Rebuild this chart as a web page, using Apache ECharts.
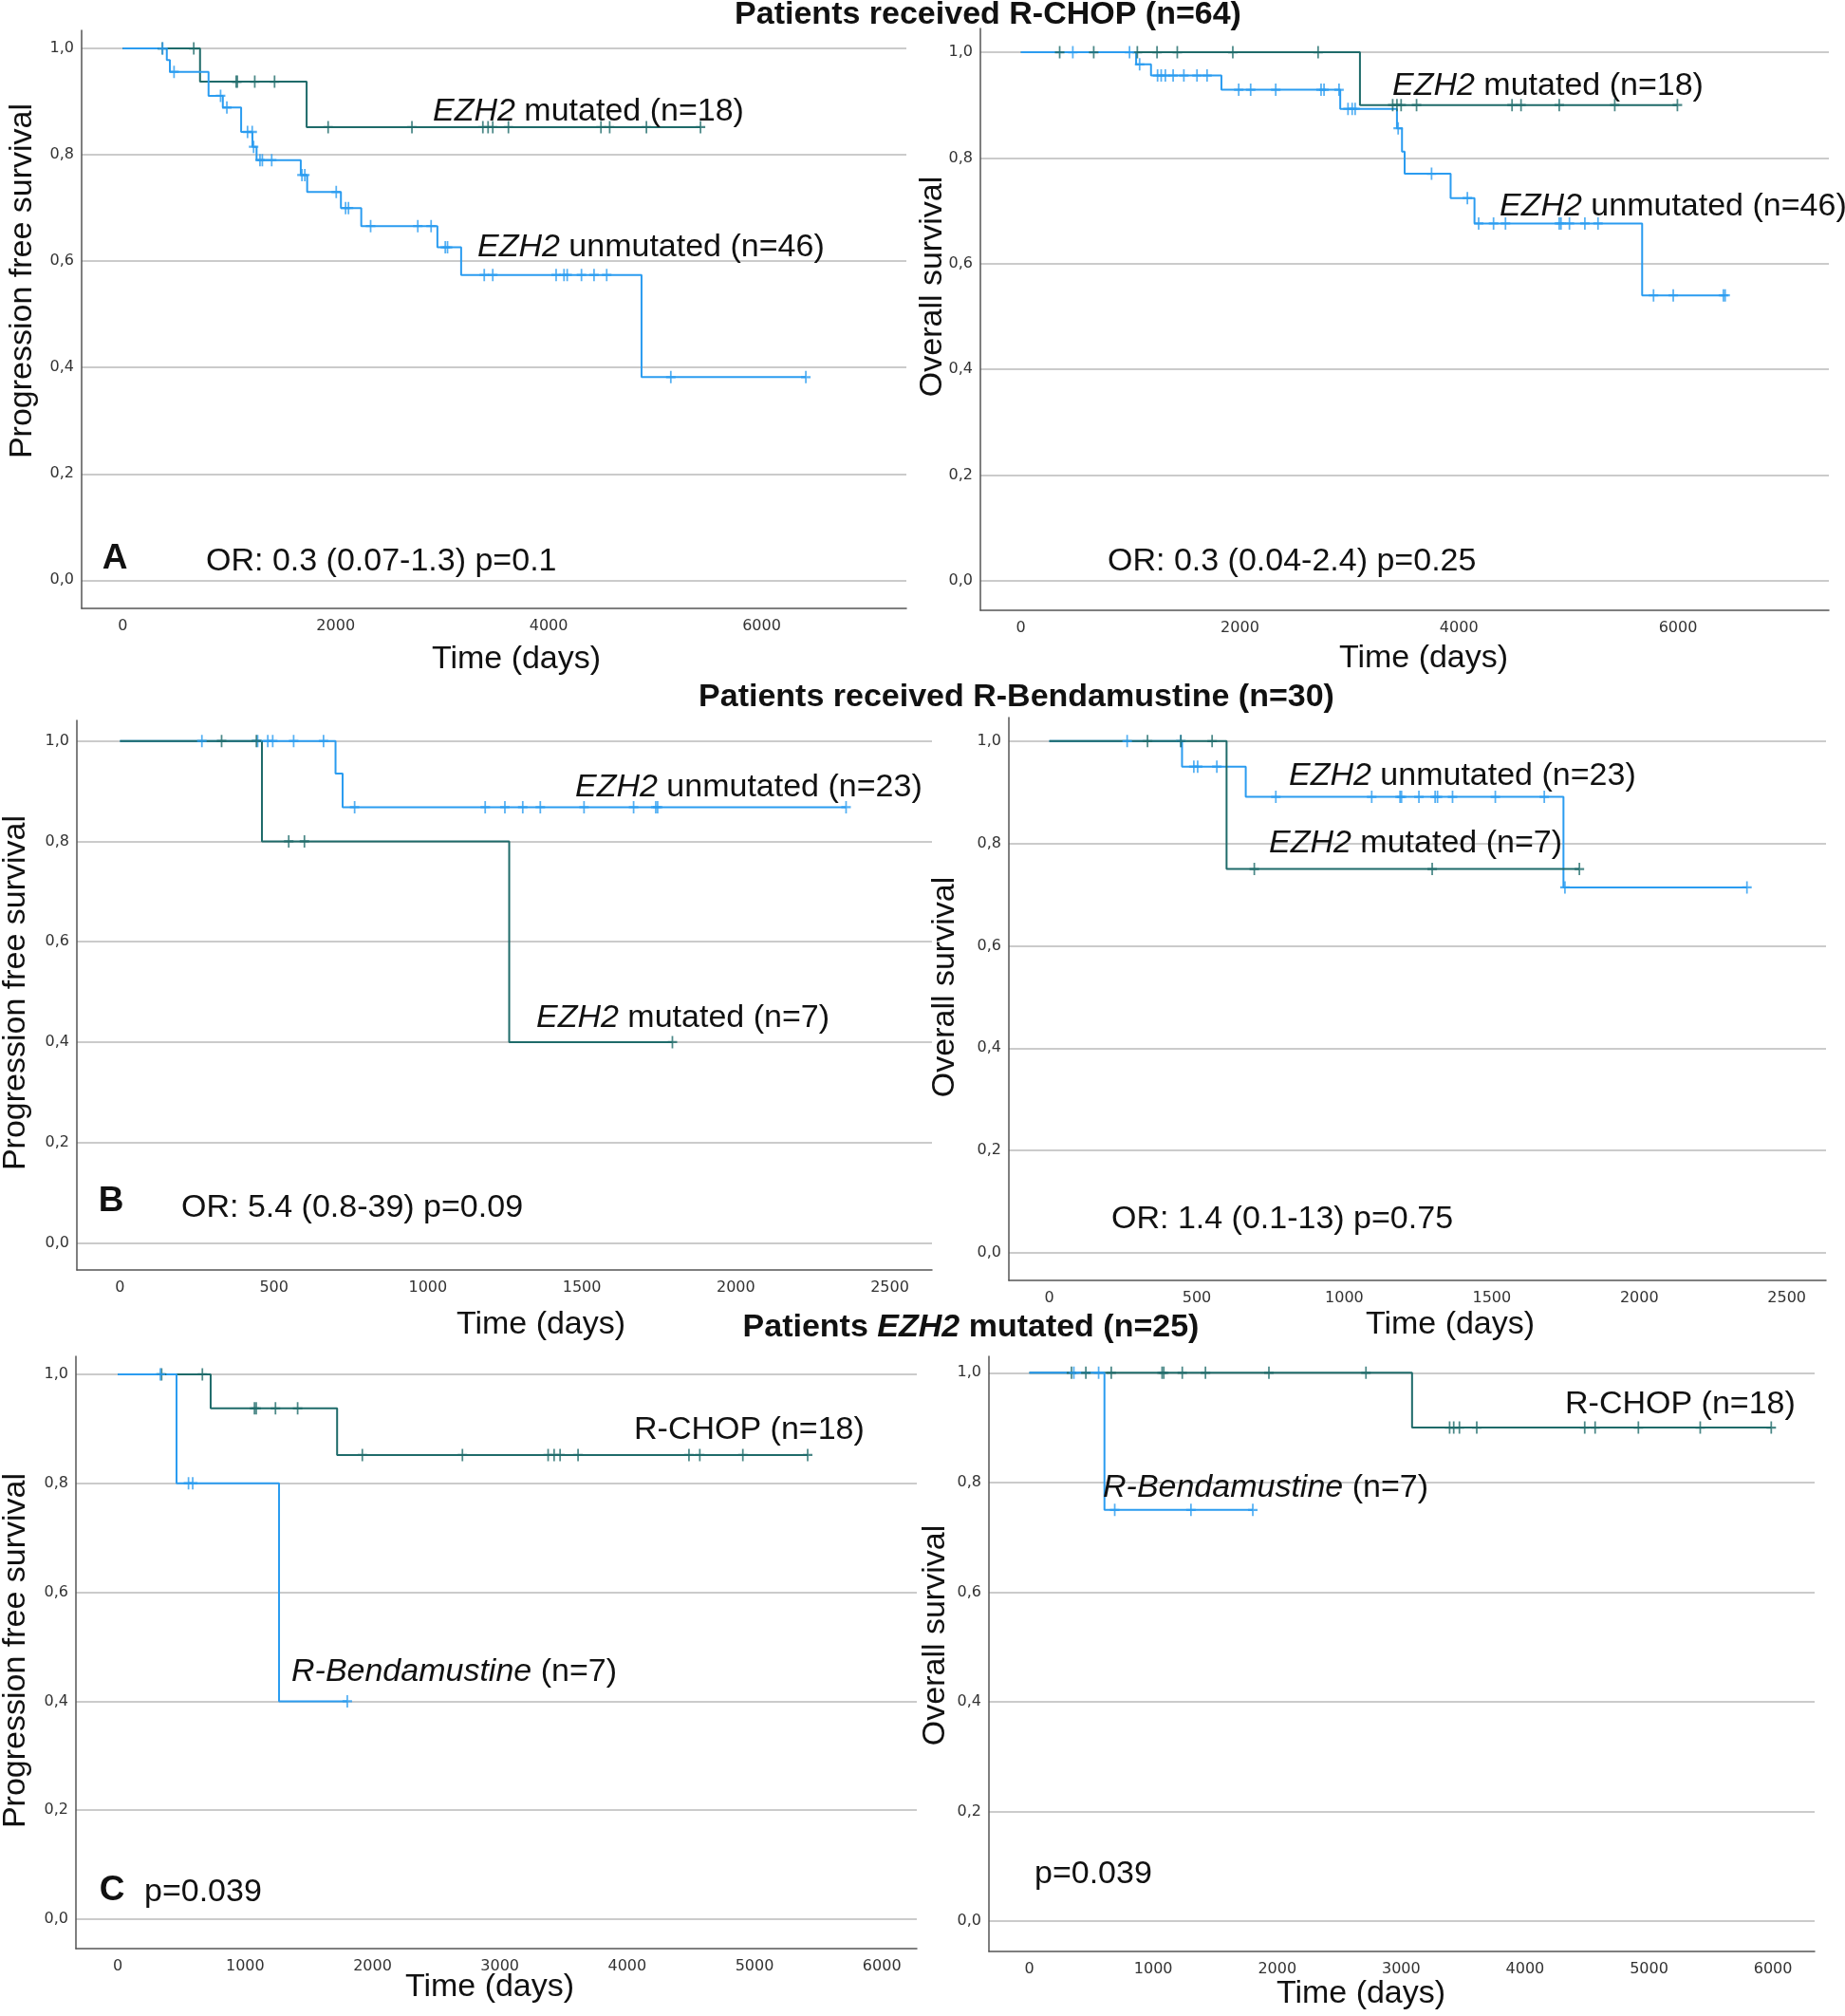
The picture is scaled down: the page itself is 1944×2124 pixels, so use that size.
<!DOCTYPE html>
<html><head><meta charset="utf-8">
<script src="https://cdn.jsdelivr.net/npm/echarts@6/dist/echarts.min.js"></script>
<style>html,body{margin:0;padding:0;background:#fff}#c{width:1944px;height:2124px}</style>
</head><body><div id="c"></div>
<script>
// ================= DATA =================
const yTickValues = [0, 0.2, 0.4, 0.6, 0.8, 1.0];
const xTicksRchop = [0, 2000, 4000, 6000];
const xTicksBenda = [0, 500, 1000, 1500, 2000, 2500];
const xTicksMutated = [0, 1000, 2000, 3000, 4000, 5000, 6000];

const sectionTitles = ['Patients received R-CHOP (n=64)', 'Patients received R-Bendamustine (n=30)', 'Patients {bi|EZH2} mutated (n=25)'];
const yNamePFS = 'Progression free survival';
const yNameOS = 'Overall survival';
const xName = 'Time (days)';

// Panel A (R-CHOP, PFS)
const aPfsMutSteps = [[0,1],[726,0.9375],[1727,0.852],[5426,0.852]];
const aPfsMutCens = [372,667,1065,1076,1240,1426,1929,2716,3382,3431,3475,3622,4491,4573,4918,5426];
const aPfsUnmSteps = [[0,1],[414,0.978],[443,0.956],[806,0.911],[940,0.889],[1112,0.843],[1218,0.815],[1257,0.790],[1672,0.762],[1732,0.730],[2049,0.700],[2240,0.666],[2955,0.626],[3178,0.574],[4872,0.382],[6415,0.382]];
const aPfsUnmCens = [375,482,919,978,1172,1216,1229,1289,1311,1399,1683,1710,2005,2093,2120,2328,2771,2896,3029,3050,3395,3475,4070,4144,4174,4308,4426,4545,5147,6415];
// Panel A right (R-CHOP, OS)
const aOsMutSteps = [[0,1],[3096,0.900],[5995,0.900]];
const aOsMutCens = [354,665,1063,1243,1428,1935,2714,3395,3434,3472,3613,4485,4567,4916,5423,5995];
const aOsUnmSteps = [[0,1],[1052,0.977],[1188,0.956],[1831,0.929],[2916,0.893],[3434,0.856],[3480,0.812],[3504,0.770],[3924,0.724],[4142,0.676],[5673,0.540],[6431,0.540]];
const aOsUnmCens = [474,992,1084,1248,1281,1319,1390,1488,1608,1700,1989,2098,2327,2741,2768,2905,2987,3025,3052,3445,3750,4077,4180,4316,4425,4916,4932,5009,5150,5270,5777,5957,6415,6431];
// Panel B (R-Bendamustine, PFS)
const bPfsUnmSteps = [[0,1],[700,0.935],[723,0.868],[2358,0.868]];
const bPfsUnmCens = [266,447,480,496,564,661,762,1186,1250,1308,1365,1507,1668,1740,1746,2358];
const bPfsMutSteps = [[0,1],[461,0.8],[1264,0.4],[1794,0.4]];
const bPfsMutCens = [330,443,548,599,1794];
// Panel B right (R-Bendamustine, OS)
const bOsUnmSteps = [[0,1],[450,0.95],[666,0.891],[1743,0.714],[2365,0.714]];
const bOsUnmCens = [264,446,490,503,568,768,1093,1189,1194,1253,1308,1316,1367,1512,1678,1748,2365];
const bOsMutSteps = [[0,1],[601,0.75],[1797,0.75]];
const bOsMutCens = [333,446,552,695,1298,1797];
// Panel C (EZH2 mutated, PFS)
const cPfsRchopSteps = [[0,1],[729,0.9375],[1722,0.852],[5417,0.852]];
const cPfsRchopCens = [344,664,1073,1087,1238,1412,1920,2706,3379,3426,3473,3614,4485,4570,4908,5417];
const cPfsBendaSteps = [[0,1],[461,0.8],[1266,0.4],[1802,0.4]];
const cPfsBendaCens = [334,555,588,1802];
// Panel C right (EZH2 mutated, OS)
const cOsRchopSteps = [[0,1],[3088,0.9],[5986,0.9]];
const cOsRchopCens = [340,456,661,1071,1085,1234,1421,1933,2716,3391,3424,3470,3610,4481,4565,4914,5413,5986];
const cOsBendaSteps = [[0,1],[606,0.75],[1803,0.75]];
const cOsBendaCens = [359,559,689,1304,1803];

// ================= LAYOUT / STYLE =================
const TEAL = '#1f6b6a', BLUE = '#2b9cf0';
const FONT = '"Liberation Sans", Arial, Helvetica, sans-serif';
const TICKFONT = '"DejaVu Sans", Verdana, sans-serif';

const panels = [
  {L:86, T:32, R:955, B:641, xmin:-386, xmax:7359, ymin:-0.053, ymax:1.034, xt:xTicksRchop,
   curves:[[aPfsMutSteps,aPfsMutCens,TEAL],[aPfsUnmSteps,aPfsUnmCens,BLUE]]},
  {L:1033, T:30, R:1927, B:643, xmin:-370, xmax:7378, ymin:-0.056, ymax:1.045, xt:xTicksRchop,
   curves:[[aOsMutSteps,aOsMutCens,TEAL],[aOsUnmSteps,aOsUnmCens,BLUE]]},
  {L:81, T:759, R:982, B:1338, xmin:-140, xmax:2637, ymin:-0.054, ymax:1.041, xt:xTicksBenda,
   curves:[[bPfsUnmSteps,bPfsUnmCens,BLUE],[bPfsMutSteps,bPfsMutCens,TEAL]]},
  {L:1063, T:756, R:1924, B:1349, xmin:-137, xmax:2633, ymin:-0.054, ymax:1.046, xt:xTicksBenda,
   curves:[[bOsUnmSteps,bOsUnmCens,BLUE],[bOsMutSteps,bOsMutCens,TEAL]]},
  {L:80, T:1429, R:966, B:2053, xmin:-329, xmax:6274, ymin:-0.054, ymax:1.033, xt:xTicksMutated,
   curves:[[cPfsRchopSteps,cPfsRchopCens,TEAL],[cPfsBendaSteps,cPfsBendaCens,BLUE]]},
  {L:1042, T:1429, R:1912, B:2056, xmin:-326, xmax:6336, ymin:-0.055, ymax:1.030, xt:xTicksMutated,
   curves:[[cOsRchopSteps,cOsRchopCens,TEAL],[cOsBendaSteps,cOsBendaCens,BLUE]]}
];

function survAt(steps, t) {
  let s = steps[0][1];
  for (const [ti, si] of steps) { if (ti <= t) s = si; else break; }
  return s;
}

const grid = [], xAxis = [], yAxis = [], series = [];
panels.forEach((p, i) => {
  grid.push({left:p.L, top:p.T, width:p.R - p.L, height:p.B - p.T, containLabel:false});
  xAxis.push({
    type:'value', gridIndex:i, min:p.xmin, max:p.xmax,
    axisLine:{show:true, onZero:false, lineStyle:{color:'#555', width:1.5}},
    axisTick:{show:false, customValues:p.xt},
    splitLine:{show:false},
    axisLabel:{customValues:p.xt, margin:11, color:'#333', fontFamily:TICKFONT, fontSize:16,
      formatter: v => String(Math.round(v))}
  });
  yAxis.push({
    type:'value', gridIndex:i, min:p.ymin, max:p.ymax,
    axisLine:{show:true, onZero:false, lineStyle:{color:'#555', width:1.5}},
    axisTick:{show:false, customValues:yTickValues},
    splitLine:{show:true, lineStyle:{color:'#cbcbcb', width:2}},
    axisLabel:{customValues:yTickValues, margin:8, color:'#333', fontFamily:TICKFONT, fontSize:16,
      formatter: v => v.toFixed(1).replace('.', ',')}
  });
  p.curves.forEach(([steps, cens, col]) => {
    series.push({
      type:'line', xAxisIndex:i, yAxisIndex:i, step:'end', data:steps,
      showSymbol:false, symbol:'none', lineStyle:{color:col, width:2}, silent:true, z:3
    });
    series.push({
      type:'scatter', xAxisIndex:i, yAxisIndex:i,
      data:cens.map(t => [t, survAt(steps, t)]),
      symbol:'path://M5,0L5,12M0,6L10,6', symbolSize:[10,13],
      itemStyle:{color:'none', borderColor:col, borderWidth:2}, silent:true, z:4
    });
  });
});

// ---- texts ----
const ANN = 34;
function txt(x, y, text, opts) {
  opts = opts || {};
  const size = opts.size || ANN;
  return {
    type:'text', x:x, y:y, rotation:opts.rot || 0, z:10,
    style:{
      text:text, fill:'#111', align:opts.align || 'left', verticalAlign:'middle',
      fontFamily:FONT, fontSize:size, fontWeight:opts.weight || 'normal',
      rich:{
        i:{fontStyle:'italic', fontFamily:FONT, fontSize:size, fill:'#111'},
        bi:{fontStyle:'italic', fontWeight:'bold', fontFamily:FONT, fontSize:size, fill:'#111'}
      }
    }
  };
}
const graphic = [
  txt(1041, 16, sectionTitles[0], {align:'center', weight:'bold'}),
  txt(1071, 735, sectionTitles[1], {align:'center', weight:'bold'}),
  txt(1023, 1399, sectionTitles[2], {align:'center', weight:'bold'}),
  txt(24, 296, yNamePFS, {align:'center', rot:Math.PI/2}),
  txt(983, 302, yNameOS, {align:'center', rot:Math.PI/2}),
  txt(17, 1046, yNamePFS, {align:'center', rot:Math.PI/2}),
  txt(996, 1040, yNameOS, {align:'center', rot:Math.PI/2}),
  txt(17, 1739, yNamePFS, {align:'center', rot:Math.PI/2}),
  txt(986, 1723, yNameOS, {align:'center', rot:Math.PI/2}),
  txt(544, 695, xName, {align:'center'}),
  txt(1500, 694, xName, {align:'center'}),
  txt(570, 1396, xName, {align:'center'}),
  txt(1528, 1396, xName, {align:'center'}),
  txt(516, 2094, xName, {align:'center'}),
  txt(1434, 2101, xName, {align:'center'}),
  txt(121, 589, 'A', {align:'center', weight:'bold', size:37}),
  txt(117, 1266, 'B', {align:'center', weight:'bold', size:37}),
  txt(118, 1992, 'C', {align:'center', weight:'bold', size:37}),
  txt(217, 592, 'OR: 0.3 (0.07-1.3) p=0.1'),
  txt(1167, 592, 'OR: 0.3 (0.04-2.4) p=0.25'),
  txt(191, 1273, 'OR: 5.4 (0.8-39) p=0.09'),
  txt(1171, 1285, 'OR: 1.4 (0.1-13) p=0.75'),
  txt(152, 1994, 'p=0.039'),
  txt(1090, 1975, 'p=0.039'),
  txt(456, 118, '{i|EZH2} mutated (n=18)'),
  txt(503, 261, '{i|EZH2} unmutated (n=46)'),
  txt(1467, 91, '{i|EZH2} mutated (n=18)'),
  txt(1580, 218, '{i|EZH2} unmutated (n=46)'),
  txt(606, 830, '{i|EZH2} unmutated (n=23)'),
  txt(565, 1073, '{i|EZH2} mutated (n=7)'),
  txt(1358, 818, '{i|EZH2} unmutated (n=23)'),
  txt(1337, 889, '{i|EZH2} mutated (n=7)'),
  txt(668, 1507, 'R-CHOP (n=18)'),
  txt(307, 1762, '{i|R-Bendamustine} (n=7)'),
  txt(1649, 1480, 'R-CHOP (n=18)'),
  txt(1162, 1568, '{i|R-Bendamustine} (n=7)')
];

const chart = echarts.init(document.getElementById('c'), null, {renderer:'canvas'});
chart.setOption({
  animation:false, backgroundColor:'#fff',
  grid, xAxis, yAxis, series, graphic
});
</script></body></html>
